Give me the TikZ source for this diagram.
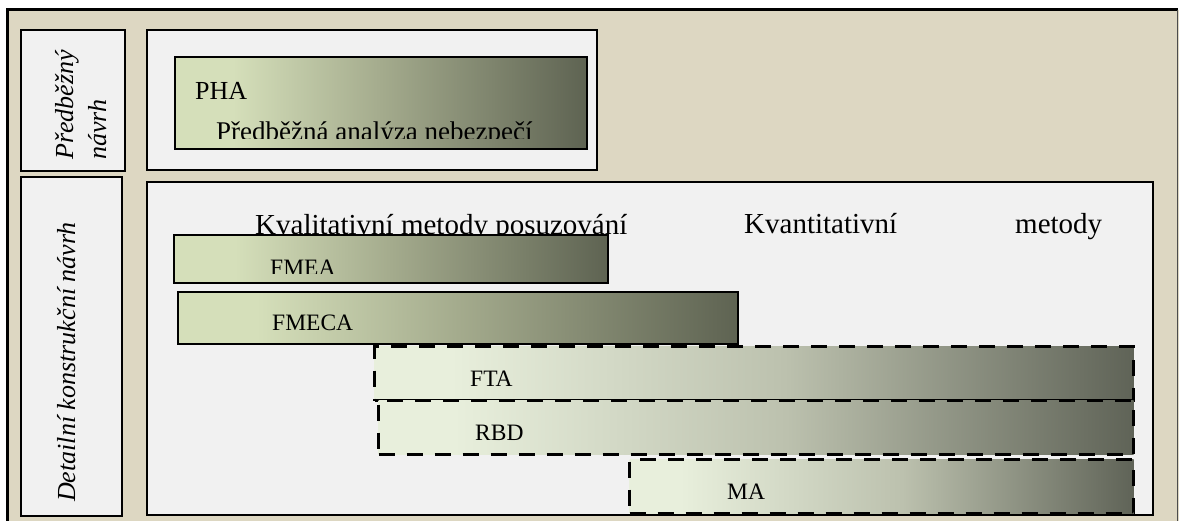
\documentclass[tikz,border=0pt]{standalone}
\usepackage{fontspec}
\setmainfont{Liberation Serif}
\usepackage{tikz}

\definecolor{framebg}{HTML}{DDD7C2}
\definecolor{panelbg}{HTML}{F1F1F1}
\definecolor{solidA}{HTML}{D5DFBA}
\definecolor{solidB}{HTML}{A4AB8D}
\definecolor{solidC}{HTML}{5E6352}
\definecolor{dashA}{HTML}{E8EFDC}
\definecolor{dashB}{HTML}{BCC1AE}
\definecolor{dashC}{HTML}{5F6357}

\pgfdeclarehorizontalshading{solidshade}{100bp}{color(0bp)=(solidA); color(32bp)=(solidA); color(50bp)=(solidB); color(75bp)=(solidC); color(100bp)=(solidC)}
\pgfdeclarehorizontalshading{dashshade}{100bp}{color(0bp)=(dashA); color(30bp)=(dashA); color(52bp)=(dashB); color(75bp)=(dashC); color(100bp)=(dashC)}

\tikzset{
  sidebox/.style={draw, line width=2, fill=panelbg, inner sep=0, anchor=north west},
  panel/.style={draw, line width=2, fill=panelbg, inner sep=0, anchor=north west},
  solidbar/.style={draw, line width=2, shade, shading=solidshade, inner sep=0, anchor=north west},
  dashbar/.style={draw, line width=3.3, dash pattern=on 16pt off 12pt, shade, shading=dashshade, inner sep=0, anchor=north west},
  barlabel/.style={font=\fontsize{23.5}{28}\selectfont, inner sep=0, anchor=base west},
  headlabel/.style={font=\fontsize{29}{34}\selectfont, inner sep=0, anchor=base west},
  sidelabel/.style={font=\itshape\fontsize{26}{30}\selectfont, inner sep=0, anchor=base west, rotate=90}
}

\begin{document}
\begin{tikzpicture}[x=1pt, y=-1pt]
    \useasboundingbox (0,0) rectangle (1179,521);

    % Outer frame
    \fill[framebg] (7,10) rectangle (1179,521);
    \draw[line width=3] (7,521) -- (7,10) -- (1178,10);
    \draw[gray!60!black] (1177,10) -- (1177,521);

    % Phase labels
    \node[sidebox, minimum width=104, minimum height=141] (prelim) at (20,29) {};
    \node[sidebox, minimum width=101, minimum height=339] (detail) at (20,176) {};
    \node[sidelabel] (prelimA) at (73,160) {Předběžný};
    \node[sidelabel] (prelimB) at (106,160) {návrh};
    \node[sidelabel] (detailA) at (75,502) {Detailní konstrukční návrh};

    % Panels
    \node[panel, minimum width=450, minimum height=140] (toppanel) at (146,29) {};
    \node[panel, minimum width=1006, minimum height=333] (mainpanel) at (146,181) {};

    % PHA
    \node[solidbar, minimum width=412, minimum height=92] (pha) at (174,56) {};
    \node[barlabel, font=\fontsize{26}{30}\selectfont] (phaname) at (195,100) {PHA};
    \begin{scope}
        \clip (174,56) rectangle (586,139);
        \node[barlabel, font=\fontsize{27}{32}\selectfont] (phatext) at (216,141) {Předběžná analýza nebezpečí};
    \end{scope}

    % Method groups
    \node[headlabel] (quali) at (255,235) {Kvalitativní metody posuzování};
    \node[headlabel] (quanti) at (744,234) {Kvantitativní};
    \node[headlabel] (quantiB) at (1015,234) {metody};

    % Qualitative bars
    \node[solidbar, minimum width=434, minimum height=48] (fmea) at (173,234) {};
    \begin{scope}
        \clip (173,234) rectangle (607,274);
        \node[barlabel] (fmeaname) at (270,276) {FMEA};
    \end{scope}
    \node[solidbar, minimum width=560, minimum height=52] (fmeca) at (177,291) {};
    \node[barlabel] (fmecaname) at (272,331) {FMECA};

    % Quantitative bars
    \node[dashbar, minimum width=759, minimum height=54] (fta) at (373,345) {};
    \node[barlabel] (ftaname) at (470,387) {FTA};
    \node[dashbar, minimum width=755, minimum height=54] (rbd) at (377,399) {};
    \node[barlabel] (rbdname) at (475,441) {RBD};
    \node[dashbar, minimum width=504, minimum height=54] (ma) at (628,458) {};
    \node[barlabel] (maname) at (727,499) {MA};
\end{tikzpicture}
\end{document}
